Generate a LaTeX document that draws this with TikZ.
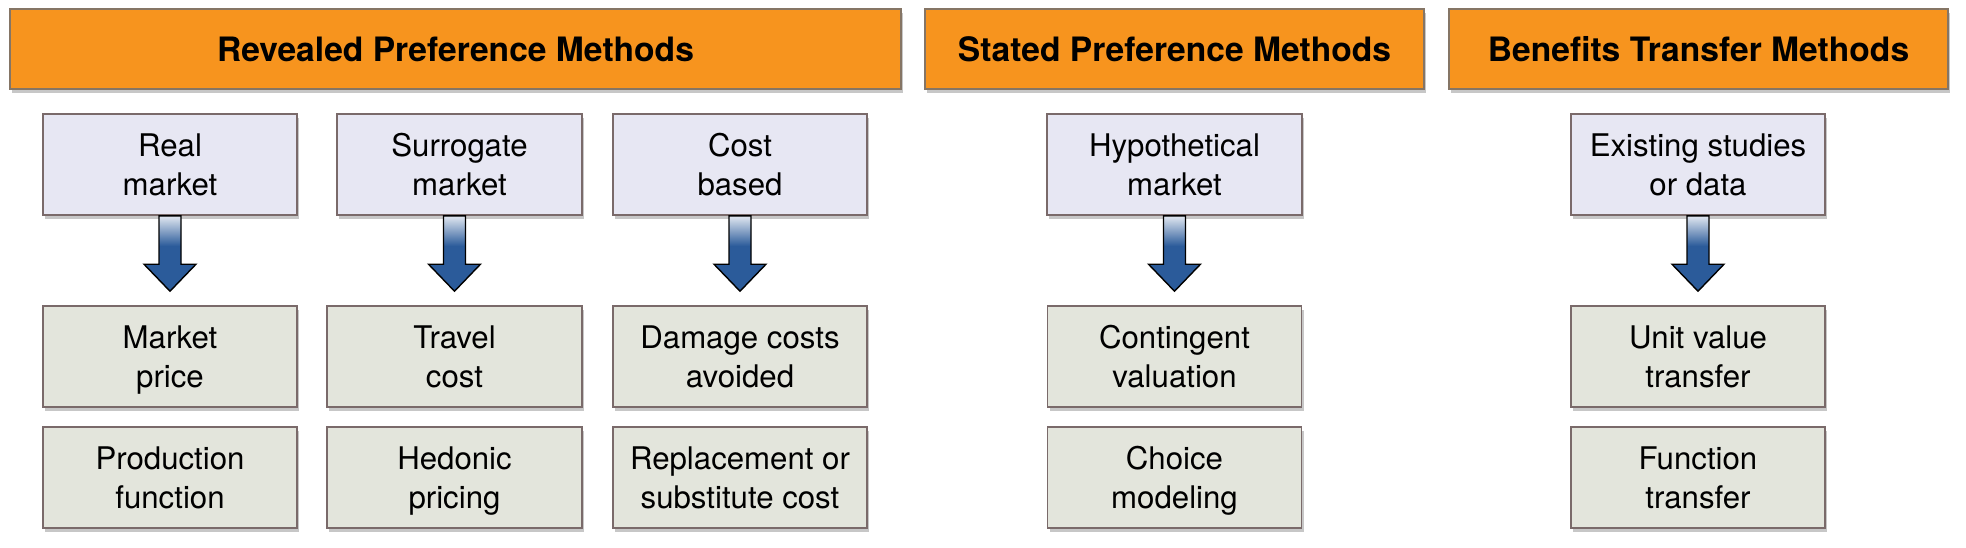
\documentclass[tikz,border=0pt]{standalone}
\usepackage{fontspec}
\setmainfont{TeX Gyre Heros}
\usetikzlibrary{shadows,calc}
\definecolor{hdrorange}{HTML}{F7941E}
\definecolor{hdrborder}{HTML}{857565}
\definecolor{topfill}{HTML}{E7E7F3}
\definecolor{botfill}{HTML}{E3E5DC}
\definecolor{boxborder}{HTML}{7A6A6A}
\definecolor{arlight}{HTML}{E2E8F1}
\definecolor{ardark}{HTML}{2B5B9A}
\pgfdeclareverticalshading{arrowgrad}{100bp}{color(0bp)=(ardark); color(25bp)=(ardark); color(55bp)=(ardark); color(75bp)=(arlight); color(100bp)=(arlight)}
\newcommand{\lnstrut}{\rule[-3.8pt]{0pt}{18.8pt}}
\newcommand{\twolines}[2]{\lnstrut #1\\\lnstrut #2}
\begin{document}
\begin{tikzpicture}[x=0.5pt,y=-0.5pt,
  softshadow/.style={drop shadow={shadow xshift=1.2pt,shadow yshift=-1.8pt,opacity=.22,fill=black}},
  header/.style={draw=hdrborder,line width=0.8pt,fill=hdrorange,minimum height=40pt,inner sep=0pt,
    font=\fontsize{16.8}{20}\selectfont\bfseries,softshadow},
  topbox/.style={draw=boxborder,line width=0.8pt,fill=topfill,minimum width=127pt,minimum height=50.5pt,
    inner sep=0pt,align=center,font=\fontsize{15.6}{19.5}\selectfont,softshadow},
  botbox/.style={topbox,fill=botfill},
  flow/.style={draw=black,line width=0.7pt,shading=arrowgrad}
]
\useasboundingbox (0,0) rectangle (1966,547);
% headers
\node[header,minimum width=445.5pt] (rpm) at (455.5,49) {Revealed Preference Methods};
\node[header,minimum width=249.5pt] (spm) at (1174.5,49) {Stated Preference Methods};
\node[header,minimum width=249.5pt] (btm) at (1698.5,49) {Benefits Transfer Methods};
% top boxes
\node[topbox] (real) at (170,164.5) {\twolines{Real}{market}};
\node[topbox,minimum width=122.5pt] (surr) at (459.5,164.5) {\twolines{Surrogate}{market}};
\node[topbox] (cost) at (740,164.5) {\twolines{Cost}{based}};
\node[topbox,minimum width=127.5pt] (hyp) at (1174.5,164.5) {\twolines{Hypothetical}{market}};
\node[topbox] (exist) at (1698,164.5) {\twolines{Existing studies}{or data}};
% bottom row 1
\node[botbox] (mp) at (170,356.5) {\twolines{Market}{price}};
\node[botbox,minimum width=127.5pt] (tc) at (454.5,356.5) {\twolines{Travel}{cost}};
\node[botbox] (dca) at (740,356.5) {\twolines{Damage costs}{avoided}};
\node[botbox] (cv) at (1174.5,356.5) {\twolines{Contingent}{valuation}};
\node[botbox] (uvt) at (1698,356.5) {\twolines{Unit value}{transfer}};
% bottom row 2
\node[botbox] (pf) at (170,477.5) {\twolines{Production}{function}};
\node[botbox,minimum width=127.5pt] (hp) at (454.5,477.5) {\twolines{Hedonic}{pricing}};
\node[botbox] (rsc) at (740,477.5) {\twolines{Replacement or}{substitute cost}};
\node[botbox] (cm) at (1174.5,477.5) {\twolines{Choice}{modeling}};
\node[botbox] (ft) at (1698,477.5) {\twolines{Function}{transfer}};
% arrows
\foreach \a/\b in {real/mp, surr/tc, cost/dca, hyp/cv, exist/uvt}{
  \shade[flow] let \p1=(\a.south), \p2=(\b.north) in
    (\x2-5.5pt,\y1) -- (\x2-5.5pt,\y2+20.5pt) -- (\x2-13pt,\y2+20.5pt) -- (\x2,\y2+7pt)
    -- (\x2+13pt,\y2+20.5pt) -- (\x2+5.5pt,\y2+20.5pt) -- (\x2+5.5pt,\y1) -- cycle;
}
\end{tikzpicture}
\end{document}
